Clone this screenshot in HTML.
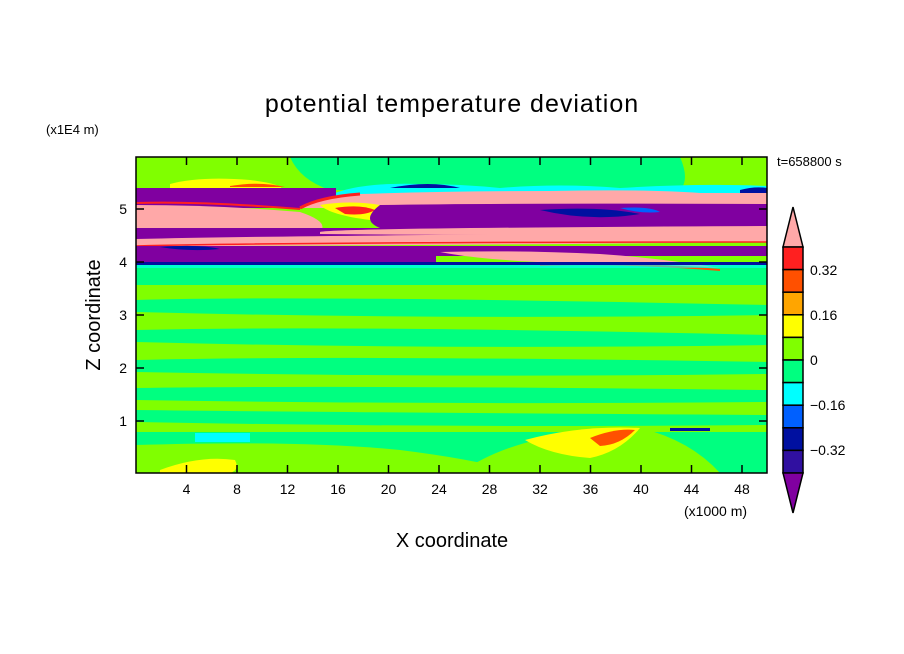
<!DOCTYPE html>
<html><head><style>
body{margin:0;background:#fff;}
svg{display:block;font-family:"Liberation Sans",sans-serif;}
</style></head><body>
<svg width="904" height="654" viewBox="0 0 904 654">
<text x="452" y="112" font-size="25" text-anchor="middle" letter-spacing="1">potential temperature deviation</text>
<text x="46" y="134" font-size="13">(x1E4 m)</text>
<text x="777" y="166" font-size="13">t=658800 s</text>
<defs><clipPath id="c"><rect x="136" y="157" width="631" height="316"/></clipPath></defs>
<g clip-path="url(#c)">
<rect x="136" y="157" width="631" height="316" fill="#80ff00"/>
<path d="M290 157 H680 Q690 180 680 190 H330 Q300 180 290 157Z" fill="#00ff80"/>
<rect x="136" y="265" width="631" height="20" fill="#00ff80"/>
<path d="M136 300 Q300 295 767 305 V315 Q450 320 136 312Z" fill="#00ff80"/>
<path d="M136 330 Q350 325 767 335 V345 Q450 350 136 342Z" fill="#00ff80"/>
<path d="M136 360 Q350 355 767 362 V374 Q450 378 136 372Z" fill="#00ff80"/>
<path d="M136 388 Q350 385 767 390 V402 Q450 405 136 400Z" fill="#00ff80"/>
<path d="M136 410 Q300 412 767 415 V425 Q450 428 136 422Z" fill="#00ff80"/>
<path d="M136 432 H767 V473 H136Z" fill="#00ff80"/>
<path d="M136 445 Q300 440 400 450 Q480 460 520 473 H136Z" fill="#80ff00"/>
<path d="M460 473 Q520 430 640 428 Q690 440 720 473Z" fill="#80ff00"/>
<path d="M525 440 Q580 425 640 428 Q620 452 590 458 Q550 455 525 440Z" fill="#ffff00"/>
<path d="M590 438 Q615 428 635 430 Q620 445 600 446Z" fill="#ff5000"/>
<path d="M195 433 H250 V442 H195Z" fill="#00ffff"/>
<path d="M160 470 Q200 455 235 460 Q240 470 230 473 H160Z" fill="#ffff00"/>
<rect x="670" y="428" width="40" height="3" fill="#0010a0"/>
<!-- upper bands -->
<path d="M170 184 Q200 176 250 180 Q290 185 280 192 H170Z" fill="#ffff00"/>
<path d="M230 186 Q260 181 285 187 H230Z" fill="#ff5000"/>
<path d="M330 195 Q360 182 420 184 Q460 184 500 188 Q560 183 620 188 Q700 183 767 186 V200 H330Z" fill="#00ffff"/>
<path d="M390 188 Q430 180 460 188Z" fill="#0010a0"/>
<path d="M740 190 Q755 186 767 188 V196 H740Z" fill="#0010a0"/>
<rect x="136" y="188" width="200" height="20" fill="#8000a0"/>
<path d="M300 208 Q320 197 360 194 Q450 191 550 191 Q650 189 700 193 H767 V208 Z" fill="#ffa8a8"/>
<path d="M300 208 Q320 197 360 194" stroke="#ff2020" stroke-width="3" fill="none"/>
<path d="M136 205 Q220 205 300 212 Q330 222 320 232 H136Z" fill="#ffa8a8"/>
<path d="M136 203 Q200 201 300 209" stroke="#ff2020" stroke-width="2" fill="none"/>
<path d="M320 205 Q350 200 380 205 Q390 215 370 220 Q330 215 320 205Z" fill="#ffff00"/>
<path d="M335 208 Q360 204 375 210 Q365 216 345 214Z" fill="#ff2020"/>
<path d="M380 205 Q500 203 767 204 V228 H380 Q360 220 380 205Z" fill="#8000a0"/>
<path d="M540 210 Q600 206 640 214 Q590 222 540 210Z" fill="#0010a0"/>
<path d="M620 208 Q650 206 660 212 Q640 214 620 208Z" fill="#0060ff"/>
<rect x="136" y="228" width="631" height="13" fill="#8000a0"/>
<path d="M320 232 Q330 228 767 226 V234 Q500 236 320 234Z" fill="#ffa8a8"/>
<path d="M136 239 Q300 235 767 233 V242 Q400 246 136 246Z" fill="#ffa8a8"/>
<path d="M136 246 Q300 242 767 242" stroke="#ff2020" stroke-width="1.5" fill="none"/>
<rect x="136" y="246" width="631" height="10" fill="#8000a0"/>
<path d="M160 247 Q200 244 220 249 Q190 252 160 247Z" fill="#0010a0"/>
<path d="M440 252 Q520 250 600 254 Q660 258 720 268 Q620 262 560 263 Q480 260 440 252Z" fill="#ffa8a8"/>
<path d="M540 265 Q620 262 720 270" stroke="#ff5000" stroke-width="2" fill="none"/>
<rect x="136" y="256" width="300" height="7" fill="#8000a0"/>
<rect x="136" y="262" width="631" height="3" fill="#0010a0"/>
<path d="M136 265 H767 V268 H136Z" fill="#00ffff" opacity=".6"/>
</g>
<rect x="136" y="157" width="631" height="316" fill="none" stroke="#000" stroke-width="1.5"/>
<g stroke="#000" stroke-width="1.5">
<path d="M186.5 473v-8M237 473v-8M287.5 473v-8M338 473v-8M388.5 473v-8M439 473v-8M489.5 473v-8M540 473v-8M590.5 473v-8M641 473v-8M691.5 473v-8M742 473v-8"/>
<path d="M186.5 157v8M237 157v8M287.5 157v8M338 157v8M388.5 157v8M439 157v8M489.5 157v8M540 157v8M590.5 157v8M641 157v8M691.5 157v8M742 157v8"/>
<path d="M136 421h8M136 368h8M136 315h8M136 262h8M136 209h8M767 421h-8M767 368h-8M767 315h-8M767 262h-8M767 209h-8"/>
</g>
<g font-size="14" text-anchor="middle">
<text x="186.5" y="494">4</text><text x="237" y="494">8</text><text x="287.5" y="494">12</text><text x="338" y="494">16</text><text x="388.5" y="494">20</text><text x="439" y="494">24</text><text x="489.5" y="494">28</text><text x="540" y="494">32</text><text x="590.5" y="494">36</text><text x="641" y="494">40</text><text x="691.5" y="494">44</text><text x="742" y="494">48</text>
</g>
<g font-size="14" text-anchor="end">
<text x="127" y="426">1</text><text x="127" y="373">2</text><text x="127" y="320">3</text><text x="127" y="267">4</text><text x="127" y="214">5</text>
</g>
<text x="684" y="516" font-size="14">(x1000 m)</text>
<text x="452" y="547" font-size="20" text-anchor="middle">X coordinate</text>
<text x="100" y="315" font-size="20" text-anchor="middle" transform="rotate(-90 100 315)">Z coordinate</text>
<g stroke="#000" stroke-width="1.5">
<path d="M783 247 L793 207 L803 247Z" fill="#ffa8a8"/>
<rect x="783" y="247" width="20" height="22.6" fill="#ff2020"/>
<rect x="783" y="269.6" width="20" height="22.6" fill="#ff5000"/>
<rect x="783" y="292.2" width="20" height="22.6" fill="#ffa500"/>
<rect x="783" y="314.8" width="20" height="22.6" fill="#ffff00"/>
<rect x="783" y="337.4" width="20" height="22.6" fill="#80ff00"/>
<rect x="783" y="360" width="20" height="22.6" fill="#00ff80"/>
<rect x="783" y="382.6" width="20" height="22.6" fill="#00ffff"/>
<rect x="783" y="405.2" width="20" height="22.6" fill="#0060ff"/>
<rect x="783" y="427.8" width="20" height="22.6" fill="#0010a0"/>
<rect x="783" y="450.4" width="20" height="22.6" fill="#3010a0"/>
<path d="M783 473 L793 513 L803 473Z" fill="#8000a0"/>
</g>
<g font-size="14">
<text x="810" y="275">0.32</text><text x="810" y="320">0.16</text><text x="810" y="365">0</text><text x="810" y="410">−0.16</text><text x="810" y="455">−0.32</text>
</g>
</svg>
</body></html>
